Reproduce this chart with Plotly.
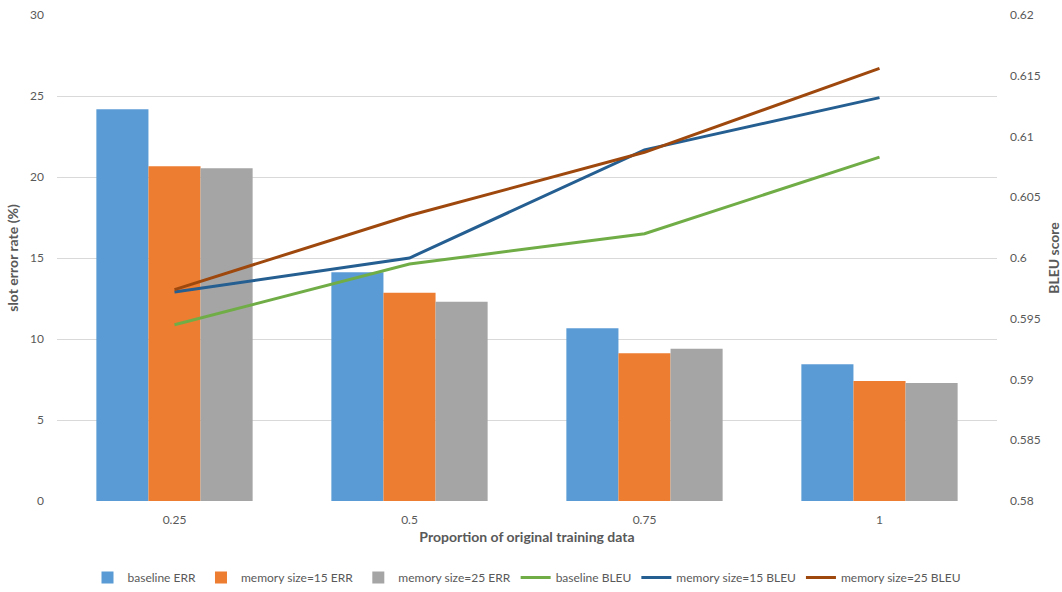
import plotly.graph_objects as go

# Proportion of the original training data used
proportions = ["0.25", "0.5", "0.75", "1"]

# Slot error rate (%)
baseline_err = [24.18, 14.12, 10.66, 8.44]
mem15_err = [20.66, 12.86, 9.12, 7.41]
mem25_err = [20.54, 12.30, 9.40, 7.28]

# BLEU score
baseline_bleu = [0.5945, 0.5995, 0.6020, 0.6083]
mem15_bleu = [0.5972, 0.6000, 0.6089, 0.6132]
mem25_bleu = [0.5974, 0.6035, 0.6087, 0.6156]

FONT = "Lato, 'Open Sans', sans-serif"
TXT = "#595959"
GRID = "#d9d9d9"

fig = go.Figure()

bar_series = [
    ("baseline ERR", baseline_err, "#5B9BD5"),
    ("memory size=15 ERR", mem15_err, "#ED7D31"),
    ("memory size=25 ERR", mem25_err, "#A5A5A5"),
]
for name, vals, color in bar_series:
    fig.add_trace(go.Bar(
        x=proportions, y=vals, name=name,
        marker=dict(color=color, line=dict(width=0)),
        yaxis="y",
    ))

line_series = [
    ("baseline BLEU", baseline_bleu, "#70AD47"),
    ("memory size=15 BLEU", mem15_bleu, "#255E91"),
    ("memory size=25 BLEU", mem25_bleu, "#9E480E"),
]
for name, vals, color in line_series:
    fig.add_trace(go.Scatter(
        x=proportions, y=vals, name=name, mode="lines",
        line=dict(color=color, width=3),
        yaxis="y2",
    ))

fig.update_layout(
    width=1062, height=592,
    margin=dict(l=57, r=65, t=15, b=91),
    paper_bgcolor="white", plot_bgcolor="white",
    font=dict(family=FONT, size=12, color=TXT),
    barmode="group", bargap=0.335, bargroupgap=0,
    showlegend=True,
    legend=dict(
        orientation="h", x=0.5, xanchor="center",
        yref="container", y=0.0, yanchor="bottom",
        font=dict(family=FONT, size=12, color=TXT),
        itemwidth=30, tracegroupgap=0,
    ),
    xaxis=dict(
        type="category", showgrid=False, showline=False, zeroline=False,
        ticks="", ticklabelstandoff=10, automargin=False,
        tickfont=dict(family=FONT, size=12, color=TXT),
        title=dict(text="<b>Proportion of original training data</b>",
                   font=dict(family=FONT, size=14, color=TXT), standoff=6),
    ),
    yaxis=dict(
        range=[0, 30], dtick=5, showgrid=True, gridcolor=GRID, gridwidth=1,
        zeroline=False, showline=False, ticks="", ticklabelstandoff=12,
        automargin=False,
        tickfont=dict(family=FONT, size=12, color=TXT),
        title=dict(text="<b>slot error rate (%)</b>",
                   font=dict(family=FONT, size=14, color=TXT), standoff=8),
    ),
    yaxis2=dict(
        range=[0.58, 0.62], dtick=0.005, overlaying="y", side="right",
        showgrid=False, zeroline=False, showline=False, ticks="",
        ticklabelstandoff=12, tickformat="~g", automargin=False,
        tickfont=dict(family=FONT, size=12, color=TXT),
        title=dict(text="<b>BLEU score</b>",
                   font=dict(family=FONT, size=14, color=TXT), standoff=10),
    ),
)

fig.write_html("out.html")
